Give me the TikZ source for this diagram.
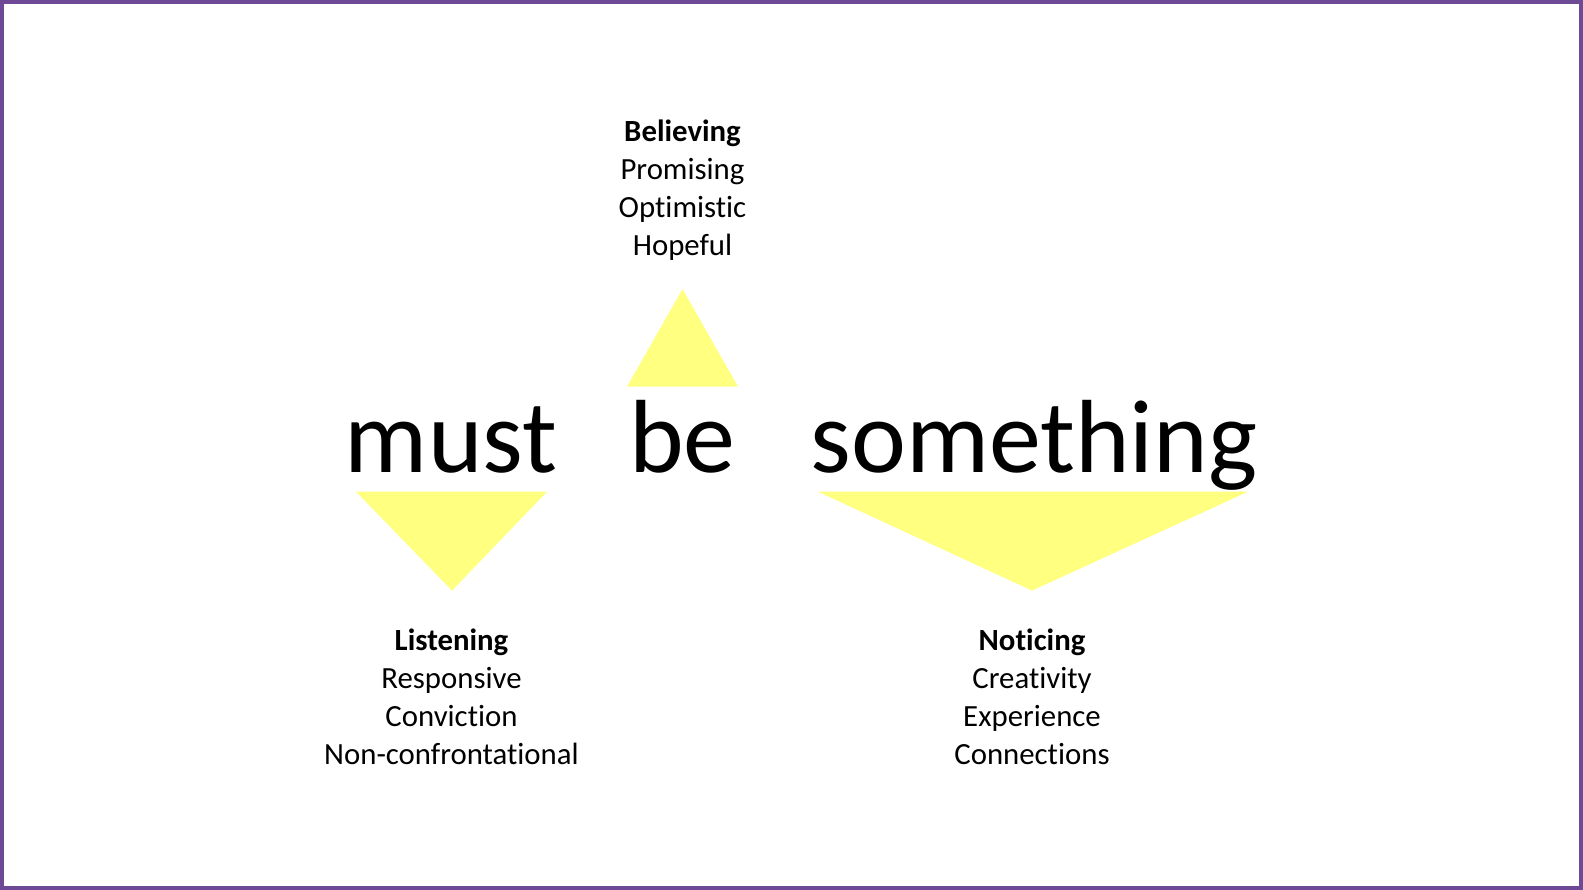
\documentclass[tikz,border=0pt]{standalone}
\usepackage{fontspec}
\setmainfont{Carlito}[Ligatures=NoCommon]
\usepackage{xcolor}
\definecolor{rahmen}{HTML}{6E4A96}
\definecolor{gelb}{HTML}{FFFF80}
\usetikzlibrary{positioning,calc}

\begin{document}
\begin{tikzpicture}[x=1pt,y=-1pt,
  wort/.style={anchor=base,inner sep=0pt,font=\fontsize{104}{125}\selectfont},
  liste/.style={align=center,inner sep=0pt,font=\fontsize{30.8}{38}\selectfont},
  spitze/.style={fill=gelb}]
  \useasboundingbox (0,0) rectangle (1583,890);
  \draw[rahmen,line width=4pt] (2,2) rectangle (1581,888);
  % Wörter
  \node[wort] (must) at (451,472.5) {must};
  \node[wort] (be) at (682.5,472.5) {be};
  \node[wort] (some) at (1034,472.5) {something};
  % Dreiecke
  \fill[spitze] (627,386.7) -- (682.5,289) -- (738,386.7) -- cycle;
  \fill[spitze] (356,491.7) -- (547,491.7) -- (452,590.6) -- cycle;
  \fill[spitze] (818,491.7) -- (1248,491.7) -- (1032,590.6) -- cycle;
  % Listen
  \node[liste] (bel) at (682.5,190) {\textbf{Believing}\\Promising\\Optimistic\\Hopeful};
  \node[liste] (lis) at (451.5,697) {\textbf{Listening}\\Responsive\\Conviction\\Non-confrontational};
  \node[liste] (not) at (1032,697) {\textbf{Noticing}\\Creativity\\Experience\\Connections};
\end{tikzpicture}
\end{document}
